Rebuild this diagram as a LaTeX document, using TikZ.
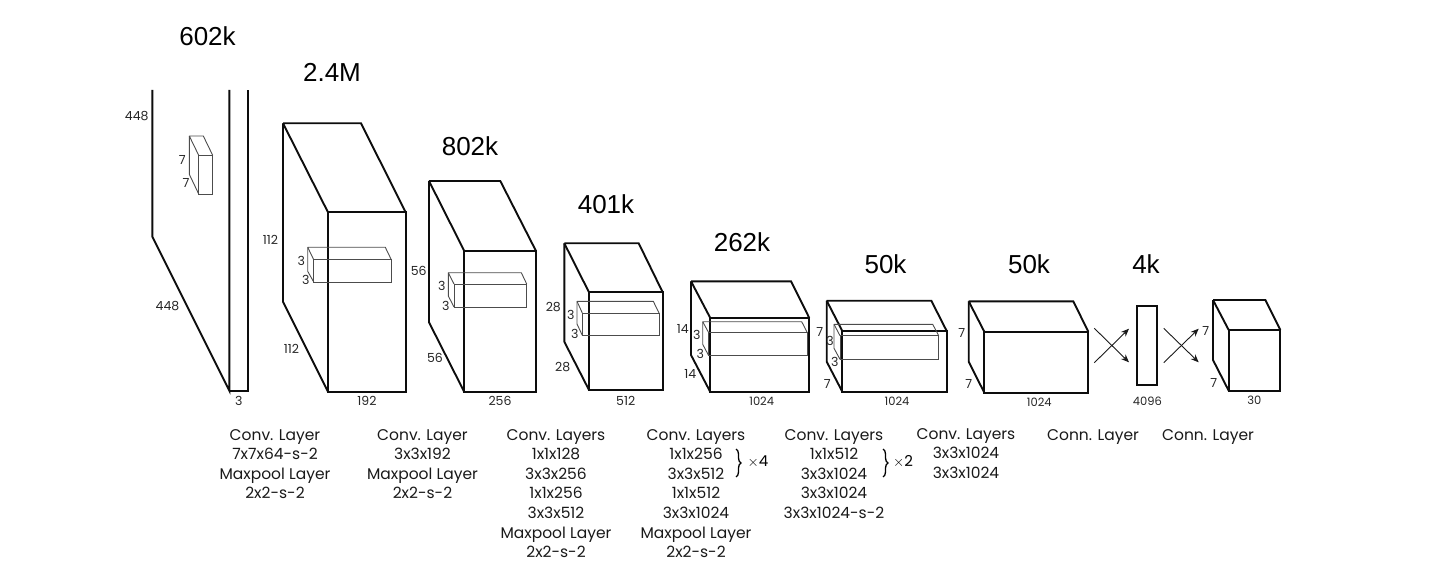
\documentclass[tikz,border=0pt]{standalone}
\usepackage{fontspec}
\setmainfont{Poppins}
\newfontfamily\headfont{Liberation Sans}
\usetikzlibrary{arrows.meta,decorations.pathreplacing}
\tikzset{
  outer/.style={line width=1.9pt,draw=black!95,line join=miter},
  inner/.style={line width=0.9pt,draw=black!70,line join=miter},
  head/.style={inner sep=0pt,font=\headfont\fontsize{26}{28}\selectfont},
  dim/.style={inner sep=0pt,text=black!85,font=\fontsize{12.5}{14}\selectfont},
  smalldim/.style={inner sep=0pt,text=black!85,font=\fontsize{11.5}{13}\selectfont},
  caption/.style={inner sep=0pt,anchor=north,align=center,text=black!90,font=\fontsize{15.5}{19.6}\selectfont},
  cross/.style={line width=0.9pt,draw=black!90,-{Stealth[length=8pt,width=6.5pt]}},
  bracket/.style={line width=1.3pt,decorate,decoration={brace,amplitude=5pt}},
}
% [style] back-left, back-right, back-top, back-bottom, front-left, front-right, front-top, front-bottom
\newcommand{\cuboid}[9][outer]{%
  \draw[#1] (#2,#4) -- (#3,#4) -- (#7,#8) (#2,#4) -- (#6,#8);
  \draw[#1] (#6,#8) rectangle (#7,#9);
  \draw[#1] (#2,#4) -- (#2,#5) -- (#6,#9);
}
\begin{document}
\begin{tikzpicture}[x=1pt,y=-1pt]
\useasboundingbox (0,0) rectangle (1430,580);
% layer 1
\draw[outer] (152.3,90) -- (152.3,236.7) -- (229.3,390.7) -- (229.3,90);
\draw[outer] (229.3,390.7) -- (248.3,390.7) -- (248.3,90);
\cuboid[inner]{189.3}{203.3}{136}{174.3}{198.7}{212.7}{155.3}{194}
% layer 2
\cuboid{283}{361}{123.3}{301.7}{328}{405.7}{212.3}{391.7}
\cuboid[inner]{307.7}{385.3}{247.3}{271.3}{313.7}{391.3}{259.7}{282}
% layer 3
\cuboid{429}{500.3}{181}{322.3}{464.3}{536}{251}{392}
\cuboid[inner]{448.3}{521.3}{272.7}{296}{454}{526.7}{284}{307}
% layer 4
\cuboid{564.3}{638.7}{243.3}{341.7}{589}{662.7}{292.3}{390}
\cuboid[inner]{577}{653.3}{301.3}{324}{582.3}{659}{313}{335.3}
% layer 5
\cuboid{691}{791}{281.3}{355}{710.3}{809.3}{318}{392}
\cuboid[inner]{702.7}{801.7}{321.7}{344.3}{708.7}{807.3}{332.7}{355.7}
% layer 6
\cuboid{826.7}{931.3}{300.7}{361.7}{842.3}{946.7}{331}{391.7}
\cuboid[inner]{834}{932.7}{324.3}{348.3}{840}{938.7}{335.7}{359.3}
% layer 7
\cuboid{968.7}{1073.3}{301.3}{361.7}{984.3}{1088.3}{331.7}{392.7}
% layer 8
\draw[outer] (1137.3,306) rectangle (1156.7,384.7);
% layer 9
\cuboid{1213}{1265.3}{300}{360}{1228.7}{1280.3}{330}{390.7}
% fully connected crossings
\coordinate (xa1) at (1094.3,328.3);
\coordinate (xa2) at (1129,362.3);
\coordinate (xa3) at (1094.3,362.7);
\coordinate (xa4) at (1129,328.7);
\coordinate (xb1) at (1163.7,328.3);
\coordinate (xb2) at (1198.7,362.3);
\coordinate (xb3) at (1163.7,362.7);
\coordinate (xb4) at (1198.7,328.7);
\draw[cross] (xa1) -- (xa2);
\draw[cross] (xa3) -- (xa4);
\draw[cross] (xb1) -- (xb2);
\draw[cross] (xb3) -- (xb4);
% headings
\node[head] (h1) at (207.5,36) {602k};
\node[head] (h2) at (332,72) {2.4M};
\node[head] (h3) at (470,146) {802k};
\node[head] (h4) at (606,204) {401k};
\node[head] (h5) at (742,242) {262k};
\node[head] (h6) at (885.5,264) {50k};
\node[head] (h7) at (1029,264) {50k};
\node[head] (h8) at (1146,264) {4k};
% dimensions
\node[dim] (a1) at (136.7,116) {448};
\node[dim] (a2) at (167.5,306.5) {448};
\node[dim] (a3) at (182.3,160) {7};
\node[dim] (a4) at (186,183.3) {7};
\node[dim] (a5) at (238.7,401) {3};
\node[dim] (b1) at (270.5,239.5) {112};
\node[dim] (b2) at (291.5,349.3) {112};
\node[dim] (b3) at (367,401) {192};
\node[dim] (b4) at (301.3,260.7) {3};
\node[dim] (b5) at (305.7,280) {3};
\node[dim] (c1) at (418.7,271.3) {56};
\node[dim] (c2) at (435,358.3) {56};
\node[dim] (c3) at (500,400.7) {256};
\node[dim] (c4) at (441.7,286) {3};
\node[dim] (c5) at (445.7,305.7) {3};
\node[dim] (e1) at (553.3,306.7) {28};
\node[dim] (e2) at (562.7,367.3) {28};
\node[dim] (e3) at (625.7,401) {512};
\node[dim] (e4) at (570.7,314.7) {3};
\node[dim] (e5) at (574.7,334) {3};
\node[dim] (f1) at (682.7,328.7) {14};
\node[dim] (f2) at (690.3,374.3) {14};
\node[smalldim] (f3) at (761.7,401.7) {1024};
\node[dim] (f4) at (696.7,334.7) {3};
\node[dim] (f5) at (700.3,354.3) {3};
\node[dim] (g1) at (819.7,331.7) {7};
\node[dim] (g2) at (827.3,384) {7};
\node[smalldim] (g3) at (897,401.7) {1024};
\node[dim] (g4) at (830,340.7) {3};
\node[dim] (g5) at (834.7,361.7) {3};
\node[dim] (i1) at (961.7,332.7) {7};
\node[dim] (i2) at (968.7,384) {7};
\node[smalldim] (i3) at (1039.3,402.7) {1024};
\node[smalldim] (j1) at (1147.3,401) {4096};
\node[dim] (k1) at (1205.7,331) {7};
\node[dim] (k2) at (1213.7,383) {7};
\node[smalldim] (k3) at (1254.3,400.7) {30};
% captions
\node[caption] (t1) at (275,429) {Conv. Layer\\7x7x64-s-2\\Maxpool Layer\\2x2-s-2};
\node[caption] (t2) at (422.5,429) {Conv. Layer\\3x3x192\\Maxpool Layer\\2x2-s-2};
\node[caption] (t3) at (556,429) {Conv. Layers\\1x1x128\\3x3x256\\1x1x256\\3x3x512\\Maxpool Layer\\2x2-s-2};
\node[caption] (t4) at (696,429) {Conv. Layers\\1x1x256\\3x3x512\\1x1x512\\3x3x1024\\Maxpool Layer\\2x2-s-2};
\node[caption] (t5) at (834,429) {Conv. Layers\\1x1x512\\3x3x1024\\3x3x1024\\3x3x1024-s-2};
\node[caption] (t6) at (966,428) {Conv. Layers\\3x3x1024\\3x3x1024};
\node[caption] (t7) at (1093,429) {Conn. Layer};
\node[caption] (t8) at (1208,429) {Conn. Layer};
% braces
\coordinate (ba) at (736,449);
\coordinate (bb) at (736,477);
\coordinate (bc) at (883,449);
\coordinate (bd) at (883,477);
\draw[bracket] (ba) -- (bb);
\draw[bracket] (bc) -- (bd);
\node[inner sep=0pt,font=\fontsize{15}{18}\selectfont] (m1) at (758,462) {$\times$4};
\node[inner sep=0pt,font=\fontsize{15}{18}\selectfont] (m2) at (903,462) {$\times$2};
\end{tikzpicture}
\end{document}
